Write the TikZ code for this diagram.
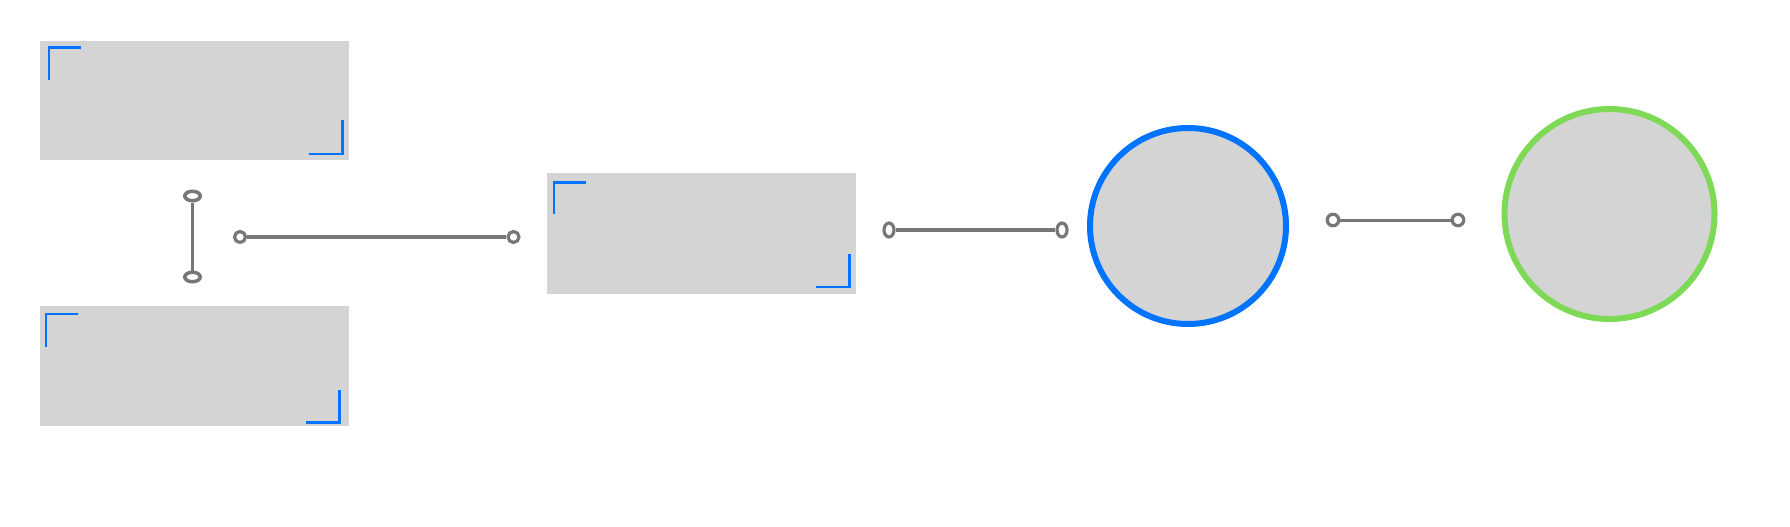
\documentclass[tikz,border=0pt]{standalone}
\usepackage{xcolor}
\usepackage{tikz}
\usetikzlibrary{positioning, shapes.geometric}

\definecolor{panelgray}{HTML}{D4D4D4}
\definecolor{linkgray}{HTML}{777777}
\definecolor{markblue}{HTML}{0073FF}
\definecolor{ringgreen}{HTML}{7ED957}

\begin{document}
\begin{tikzpicture}[
  x=1pt, y=-1pt,
  box/.style={rectangle, fill=panelgray, minimum width=309pt, minimum height=#1, inner sep=0pt},
  ring/.style={circle, draw=#1, line width=6pt, fill=panelgray, inner sep=0pt},
  cornermark/.style={draw=markblue, line width=2.6pt, line join=miter},
  link/.style={draw=linkgray, line width=#1},
  dot/.style={circle, draw=linkgray, line width=3.2pt, fill=white, inner sep=0pt, minimum size=11pt},
  oval/.style={ellipse, draw=linkgray, line width=3.2pt, fill=white, inner sep=0pt},
]
\useasboundingbox (0,0) rectangle (1790,527);

% Panels on the left and in the middle
\node[box=119pt] (upper) at (194.5,100.5) {};
\node[box=120pt] (lower) at (194.5,366) {};
\node[box=121pt] (middle) at (701.5,233.5) {};

% Corner marks of each panel
\draw[cornermark] ([shift={(9.3,39)}]upper.north west) |- ++(32,-32);
\draw[cornermark] ([shift={(-40.3,-6.3)}]upper.south east) -| ++(33.6,-33.7);
\draw[cornermark] ([shift={(6,40.7)}]lower.north west) |- ++(32.3,-32.4);
\draw[cornermark] ([shift={(-43.7,-3.7)}]lower.south east) -| ++(34,-33);
\draw[cornermark] ([shift={(7,41.3)}]middle.north west) |- ++(32.3,-31.6);
\draw[cornermark] ([shift={(-40.7,-7.3)}]middle.south east) -| ++(33.7,-33.4);

% Rings on the right
\node[ring=markblue, minimum size=196pt] (blue) at (1188,226) {};
\node[ring=ringgreen, minimum size=210pt] (green) at (1609.5,214) {};

% Loose links with open ends
\node[oval, line width=3.5pt, minimum width=15.5pt, minimum height=9.5pt] (v1) at (192.5,196) {};
\node[oval, line width=3.5pt, minimum width=15.5pt, minimum height=9.5pt] (v2) at (192.5,277) {};
\draw[link=3.8pt] (v1) -- (v2);

\node[dot] (h1) at (240,237) {};
\node[dot] (h2) at (513.5,237) {};
\draw[link=3.5pt] (h1) -- (h2);

\node[oval, minimum width=10pt, minimum height=14pt] (m1) at (889,230) {};
\node[oval, minimum width=10pt, minimum height=14pt] (m2) at (1062,230) {};
\draw[link=4.3pt] (m1) -- (m2);

\node[dot, minimum size=11.5pt] (r1) at (1333,220) {};
\node[dot, minimum size=11.5pt] (r2) at (1458,220) {};
\draw[link=3pt] (r1) -- (r2);
\end{tikzpicture}
\end{document}
